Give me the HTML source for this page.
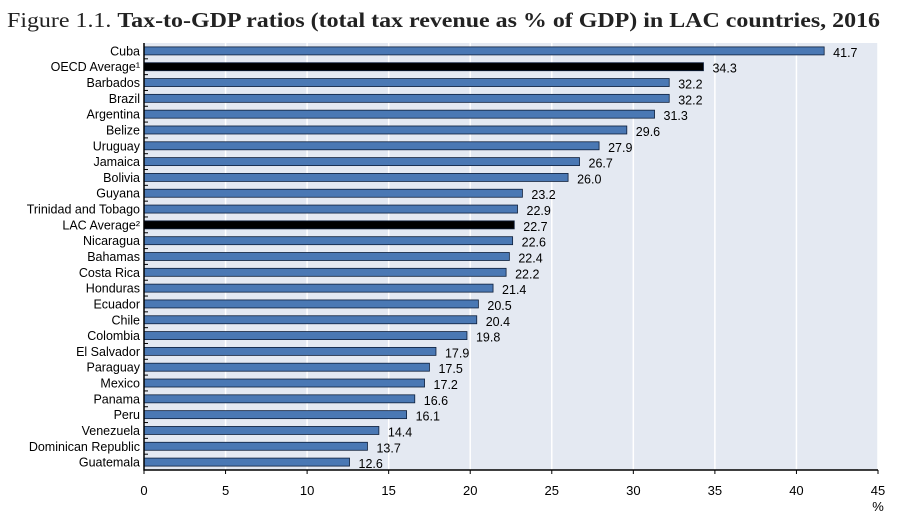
<!DOCTYPE html>
<html><head><meta charset="utf-8"><style>
body{margin:0;background:#fff;width:910px;height:521px;overflow:hidden}
svg text{font-family:"Liberation Sans",sans-serif}
</style></head><body>
<svg id="c" width="910" height="521">
<text x="7" y="27" font-size="21" fill="#222" textLength="873" lengthAdjust="spacingAndGlyphs" style="font-family:'Liberation Serif',serif">Figure 1.1. <tspan font-weight="bold">Tax-to-GDP ratios (total tax revenue as % of GDP) in LAC countries, 2016</tspan></text>
</svg>
<script>
const categories=["Cuba","OECD Average¹","Barbados","Brazil","Argentina","Belize","Uruguay","Jamaica","Bolivia","Guyana","Trinidad and Tobago","LAC Average²","Nicaragua","Bahamas","Costa Rica","Honduras","Ecuador","Chile","Colombia","El Salvador","Paraguay","Mexico","Panama","Peru","Venezuela","Dominican Republic","Guatemala"];
const values=[41.7,34.3,32.2,32.2,31.3,29.6,27.9,26.7,26.0,23.2,22.9,22.7,22.6,22.4,22.2,21.4,20.5,20.4,19.8,17.9,17.5,17.2,16.6,16.1,14.4,13.7,12.6];
const highlight=["OECD Average¹","LAC Average²"];
const xTicks=[0,5,10,15,20,25,30,35,40,45];
const NS="http://www.w3.org/2000/svg",svg=document.getElementById("c");
const L=144,R=878,T=43,B=470;
const x=v=>L+(v/45)*(R-L);
const rowH=(B-T)/categories.length;
const y=i=>T+rowH*(i+0.5);
function mk(t,a){const e=document.createElementNS(NS,t);for(const k in a)e.setAttribute(k,a[k]);svg.appendChild(e);return e;}
const bg=mk("rect",{x:L,y:T,width:R-L,height:B-T,fill:"#e4e9f2"});


xTicks.forEach(t=>{
 if(t>0){const g=mk("line",{x1:x(t),x2:x(t),y1:T,y2:B,stroke:"#fff","stroke-width":1.5});
 
 }
 const tk=mk("line",{x1:x(t),x2:x(t),y1:B,y2:B+4,stroke:"#000"});
 
 
 const lb=mk("text",{x:x(t),y:B+25,"font-size":13,"text-anchor":"middle",fill:"#000"});lb.textContent=t;
 
 
});
categories.forEach((c,i)=>{
 const hl=highlight.includes(c);
 const b=mk("rect",{x:L,y:y(i)-4,width:x(values[i])-L,height:8,fill:hl?"#000":"#4a78b4",stroke:"#0d1e3a","stroke-width":0.8});
 
 
 const lb=mk("text",{x:L-4,y:y(i)+4.5,"font-size":12.5,"text-anchor":"end",fill:"#000"});lb.textContent=c;
 
 
 const v=mk("text",{x:x(values[i])+9,y:y(i)+6,"font-size":12.5,fill:"#000"});v.textContent=values[i].toFixed(1);
 
 
 if(i>0){const tk=mk("line",{x1:L,x2:L+4,y1:T+rowH*i,y2:T+rowH*i,stroke:"#000"});
 
 }
});
const ax=mk("path",{d:`M${L},${T}V${B}H${R}`,fill:"none",stroke:"#000","stroke-width":1.5});


const u=mk("text",{x:R,y:511,"font-size":13,"text-anchor":"middle",fill:"#000"});u.textContent="%";


</script>
</body></html>
